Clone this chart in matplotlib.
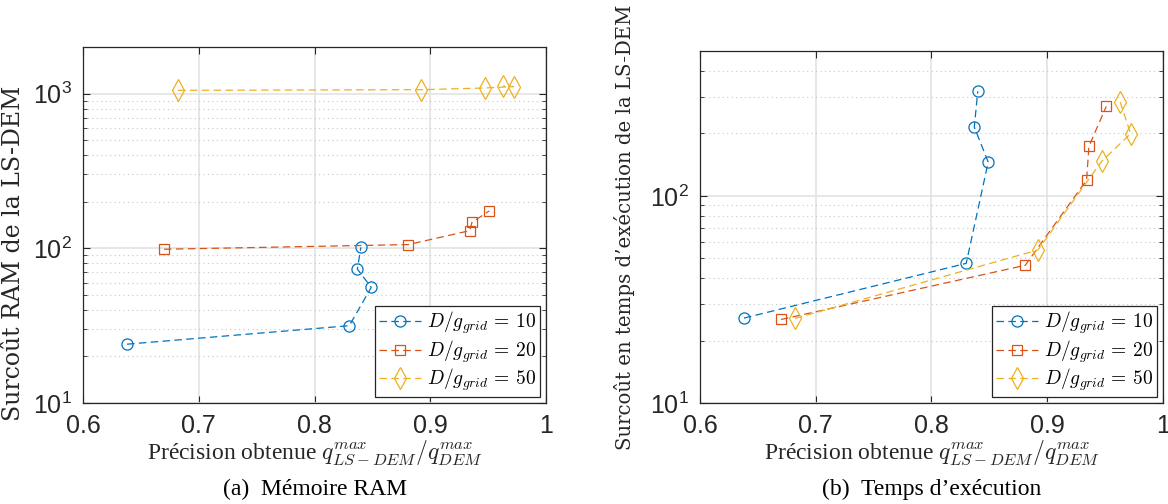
import numpy as np
import matplotlib
matplotlib.use("Agg")
import matplotlib.pyplot as plt
from matplotlib.ticker import LogLocator, NullFormatter, FixedLocator

plt.rcParams['mathtext.fontset'] = 'cm'

# précision obtenue q_LS-DEM / q_DEM (mêmes points pour les deux figures)
x_10 = [0.638, 0.830, 0.849, 0.837, 0.840]
x_20 = [0.670, 0.881, 0.934, 0.936, 0.951]
x_50 = [0.682, 0.892, 0.947, 0.972, 0.963]

# (a) surcoût RAM
ram_10 = [24.0, 31.6, 55.9, 73.4, 101.4]
ram_20 = [98.6, 105.7, 130.0, 147.0, 174.6]
ram_50 = [1050, 1060, 1087, 1110, 1120]

# (b) surcoût en temps d'exécution
temps_10 = [25.7, 47.2, 145.5, 214.8, 319.8]
temps_20 = [25.3, 46.2, 119.0, 173.3, 270.0]
temps_50 = [25.6, 54.8, 146.6, 199.5, 284.0]

labels = [r'$D/g_{grid}\,=\,10$', r'$D/g_{grid}\,=\,20$', r'$D/g_{grid}\,=\,50$']
colors = ['#0072BD', '#D95319', '#EDB120']
markers = ['o', 's', 'd']
msizes = [8, 7, 11]

tick_font = ['Liberation Sans Narrow', 'Liberation Sans', 'DejaVu Sans']
label_font = ['Liberation Serif', 'DejaVu Serif']
ylab_font = ['DejaVu Serif']

fig = plt.figure(figsize=(11.68, 5.04), dpi=100)
ax1 = fig.add_axes([0.0711, 0.2004, 0.3964, 0.7063])
ax2 = fig.add_axes([0.5993, 0.2004, 0.3964, 0.6984])


def draw(ax, ys, ylim):
    xs = [x_10, x_20, x_50]
    for i in range(3):
        ax.plot(xs[i], ys[i], linestyle=(0, (6, 3.5)), color=colors[i], lw=0.9,
                marker=markers[i], markersize=msizes[i], markerfacecolor='none',
                markeredgewidth=0.9, label=labels[i])
    ax.set_yscale('log')
    ax.set_xlim(0.6, 1.0)
    ax.set_ylim(*ylim)
    ax.xaxis.set_major_locator(FixedLocator([0.6, 0.7, 0.8, 0.9, 1.0]))
    ax.set_xticklabels(['0.6', '0.7', '0.8', '0.9', '1'])
    ax.yaxis.set_major_locator(LogLocator(base=10, numticks=10))
    ax.yaxis.set_minor_locator(LogLocator(base=10, subs=np.arange(2, 10), numticks=20))
    ax.yaxis.set_minor_formatter(NullFormatter())
    ax.tick_params(which='both', direction='in', top=True, right=True,
                   colors='#262626', labelcolor='#262626')
    ax.tick_params(which='major', length=5, width=0.8, pad=8, labelsize=18)
    ax.tick_params(which='minor', length=3, width=0.6)
    for lab in ax.get_xticklabels() + ax.get_yticklabels():
        lab.set_family(tick_font)
    ax.grid(True, which='major', color='#e3e3e3', lw=1.2, linestyle='-')
    ax.grid(True, which='minor', axis='y', color='#c8c8c8', lw=0.8,
            linestyle=(0, (1, 3)))
    ax.set_axisbelow(True)
    for sp in ax.spines.values():
        sp.set_color('#262626')
        sp.set_linewidth(0.9)
    leg = ax.legend(loc='lower right', fontsize=14, fancybox=False, framealpha=1,
                    edgecolor='#262626', handlelength=2.2, handletextpad=0.3,
                    labelspacing=0.1, borderpad=0.2, borderaxespad=0.3)
    leg.get_frame().set_linewidth(0.9)
    ax.set_xlabel(r'Précision obtenue $q^{max}_{LS-DEM}/q^{max}_{DEM}$',
                  fontsize=17, family=label_font, color='#262626')
    ax.xaxis.set_label_coords(0.5, -0.1)


draw(ax1, [ram_10, ram_20, ram_50], (10, 2000))
draw(ax2, [temps_10, temps_20, temps_50], (10, 500))

ax1.set_ylabel('Surcoût RAM de la LS-DEM', fontsize=17, family=ylab_font, color='#262626')
ax1.yaxis.set_label_coords(-0.125, 0.42)
ax2.set_ylabel('Surcoût en temps d\u2019exécution de la LS-DEM', fontsize=14.2,
               family=ylab_font, color='#262626')
ax2.yaxis.set_label_coords(-0.14, 0.5)

fig.text(0.2693, 0.028, '(a)  Mémoire RAM', ha='center', va='center',
         fontsize=17, family=label_font)
fig.text(0.7975, 0.028, '(b)  Temps d\u2019exécution', ha='center', va='center',
         fontsize=17, family=label_font)

fig.savefig('out.png', dpi=100)
